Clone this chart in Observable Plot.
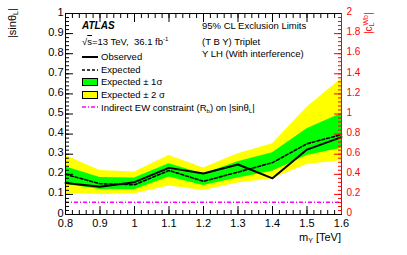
<!DOCTYPE html>
<html>
<head>
<meta charset="utf-8">
<script src="https://cdn.jsdelivr.net/npm/d3@7"></script>
<script src="https://cdn.jsdelivr.net/npm/@observablehq/plot@0.6"></script>
<style>
  html, body { margin: 0; padding: 0; background: white; }
  #wrap { position: relative; width: 407px; height: 255px; font-family: "Liberation Sans", Arial, sans-serif; }
  .t { position: absolute; font-size: 9.5px; line-height: 1; white-space: nowrap; color: black; }
  .sw { position: absolute; }
</style>
</head>
<body>
<div id="wrap"></div>
<script>
// ---- data ----
const mass     = [0.8, 0.9, 1.0, 1.1, 1.2, 1.3, 1.4, 1.5, 1.6];
const observed = [0.157, 0.138, 0.161, 0.232, 0.204, 0.249, 0.180, 0.323, 0.385];
const expected = [0.200, 0.153, 0.148, 0.219, 0.165, 0.211, 0.258, 0.352, 0.398];
const minus1   = [0.150, 0.125, 0.123, 0.186, 0.144, 0.182, 0.215, 0.294, 0.330];
const plus1    = [0.238, 0.184, 0.181, 0.253, 0.201, 0.262, 0.307, 0.426, 0.502];
const minus2   = [0.105, 0.100, 0.103, 0.142, 0.120, 0.157, 0.178, 0.249, 0.268];
const plus2    = [0.294, 0.219, 0.211, 0.294, 0.231, 0.302, 0.352, 0.534, 0.675];
const ewConstraint = 0.061;

const xMajor = [0.8, 0.9, 1.0, 1.1, 1.2, 1.3, 1.4, 1.5, 1.6];
const xMinor = d3.range(0, 41).map(i => 0.8 + i * 0.02);
const yMajor = [0, 0.1, 0.2, 0.3, 0.4, 0.5, 0.6, 0.7, 0.8, 0.9, 1.0];
const yMinor = d3.range(0, 51).map(i => i * 0.02);
const rightMajor = [0, 0.2, 0.4, 0.6, 0.8, 1.0, 1.2, 1.4, 1.6, 1.8, 2.0];
const rightScale = 2; // right axis |c_L^Wb| spans 0..2 over the same frame

const rows = mass.map((m, i) => ({
  m, obs: observed[i], exp: expected[i],
  m1: minus1[i], p1: plus1[i], m2: minus2[i], p2: plus2[i]
}));

const fmt = d => String(+(+d).toFixed(1));
const blank = () => "";
const RED = "#ff0000";

const chart = Plot.plot({
  width: 407,
  height: 255,
  marginLeft: 65,
  marginRight: 66,
  marginTop: 13,
  marginBottom: 41,
  style: { fontFamily: "Liberation Sans, Arial, sans-serif", background: "white", overflow: "visible" },
  x: { domain: [0.8, 1.6] },
  y: { domain: [0, 1] },
  marks: [
    Plot.areaY(rows, { x: "m", y1: "m2", y2: "p2", fill: "#ffff00" }),
    Plot.areaY(rows, { x: "m", y1: "m1", y2: "p1", fill: "#00ff00" }),
    Plot.line(rows, { x: "m", y: "exp", stroke: "black", strokeWidth: 1.6, strokeDasharray: "3,2" }),
    Plot.line(rows, { x: "m", y: "obs", stroke: "black", strokeWidth: 2 }),
    Plot.ruleY([ewConstraint], { stroke: "#ff00ff", strokeWidth: 1.5, strokeDasharray: "4,2,1,2" }),
    // bottom axis
    Plot.axisX(xMinor, { anchor: "bottom", tickSize: -4, tickFormat: blank, label: null }),
    Plot.axisX(xMajor, { anchor: "bottom", tickSize: -8, tickFormat: blank, label: null }),
    Plot.axisX(xMajor, { anchor: "bottom", tickSize: 0, tickPadding: 5, tickFormat: fmt, fontSize: 11, label: null }),
    // top axis
    Plot.axisX(xMinor, { anchor: "top", tickSize: -4, tickFormat: blank, label: null }),
    Plot.axisX(xMajor, { anchor: "top", tickSize: -8, tickFormat: blank, label: null }),
    // left axis
    Plot.axisY(yMinor, { anchor: "left", tickSize: -4, tickFormat: blank, label: null }),
    Plot.axisY(yMajor, { anchor: "left", tickSize: -8, tickFormat: blank, label: null }),
    Plot.axisY(yMajor, { anchor: "left", tickSize: 0, tickPadding: 2, dy: -1.5, tickFormat: fmt, fontSize: 11, label: null }),
    // right axis (0..2)
    Plot.axisY(yMinor, { anchor: "right", tickSize: -4, tickFormat: blank, label: null, stroke: RED }),
    Plot.axisY(rightMajor.map(r => r / rightScale), { anchor: "right", tickSize: -8, tickFormat: blank, label: null, stroke: RED }),
    Plot.axisY(rightMajor.map(r => r / rightScale), { anchor: "right", tickSize: 0, tickPadding: 5, dy: -1.5, tickFormat: d => fmt(d * rightScale), fontSize: 10, fill: RED, label: null }),
    Plot.frame({ stroke: "black" }),
    Plot.ruleX([1.6], { stroke: RED })
  ]
});

const wrap = document.getElementById("wrap");
wrap.appendChild(chart);

function addText(html, x, y, extra = "") {
  const d = document.createElement("div");
  d.className = "t";
  d.style.left = x + "px";
  d.style.top = y + "px";
  d.style.cssText += extra;
  d.innerHTML = html;
  wrap.appendChild(d);
  return d;
}
function addSwatch(svg, x, y, w, h) {
  const d = document.createElement("div");
  d.className = "sw";
  d.style.left = x + "px"; d.style.top = y + "px";
  d.innerHTML = `<svg width="${w}" height="${h}" style="display:block">${svg}</svg>`;
  wrap.appendChild(d);
}

// ATLAS label & context texts
addText("ATLAS", 82, 21, "font-weight:bold;font-style:italic;font-size:10px;");
addText("√<span style='text-decoration:overline'>s</span>=13 TeV,&nbsp; 36.1 fb<sup style='font-size:6px;vertical-align:4px'>-1</sup>", 82, 36);
addText("95% CL Exclusion Limits", 202, 21);
addText("(T B Y) Triplet", 202, 37);
addText("Y LH (With interference)", 202, 49);

// legend
const lx = 82, lw = 16, tx = 101;
addSwatch(`<line x1="0" y1="3" x2="${lw}" y2="3" stroke="black" stroke-width="2"/>`, lx, 54, lw, 6);
addText("Observed", tx, 52);
addSwatch(`<line x1="0" y1="3" x2="${lw}" y2="3" stroke="black" stroke-width="1.5" stroke-dasharray="3,2"/>`, lx, 67, lw, 6);
addText("Expected", tx, 65);
addSwatch(`<rect x="0.5" y="0.5" width="${lw - 1}" height="7" fill="#00ff00" stroke="black"/>`, lx, 78, lw, 8);
addText("Expected ± 1σ", tx, 77);
addSwatch(`<rect x="0.5" y="0.5" width="${lw - 1}" height="7" fill="#ffff00" stroke="black"/>`, lx, 91, lw, 8);
addText("Expected ± 2 σ", tx, 90);
addSwatch(`<line x1="0" y1="3" x2="${lw}" y2="3" stroke="#ff00ff" stroke-width="1.5" stroke-dasharray="4,2,1,2"/>`, lx, 104, lw, 6);
addText("Indirect EW constraint (R<sub style='font-size:6px;vertical-align:-2px'>b</sub>) on |sinθ<sub style='font-size:6px;vertical-align:-2px'>L</sub>|", tx, 103);

// axis titles
addText("|sinθ<sub style='font-size:7px;vertical-align:-2px'>L</sub>|", 0, 0,
  "font-size:11px;transform-origin:0 0;transform:translate(7px,38px) rotate(-90deg);");
addText("m<sub style='font-size:7px;vertical-align:-2px'>Y</sub> [TeV]", 0, 0,
  "font-size:11px;left:auto;right:66px;top:232px;");
addText("|c<sub style='font-size:7px;vertical-align:-2px'>L</sub><sup style='font-size:7px;vertical-align:4px;margin-left:-3px'>Wb</sup>|", 0, 0,
  "font-size:10px;color:#ff0000;transform-origin:0 0;transform:translate(362px,34px) rotate(-90deg);");
</script>
</body>
</html>
